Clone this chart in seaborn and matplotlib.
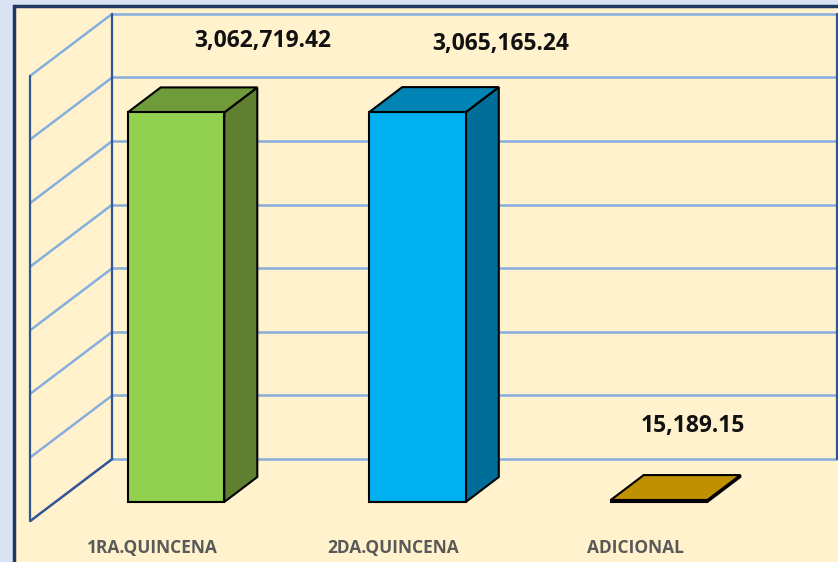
import numpy as np
import seaborn as sns
import matplotlib.pyplot as plt
from matplotlib.patches import Polygon, Rectangle

# Data
categories = ["1RA.QUINCENA", "2DA.QUINCENA", "ADICIONAL"]
values = [3062719.42, 3065165.24, 15189.15]
grid_values = [0, 500000, 1000000, 1500000, 2000000, 2500000, 3000000, 3500000]

# Colours: front, top, side
front_colors = ["#92D050", "#00B0F0", "#BF9000"]
top_colors = ["#6F9B3A", "#0083B5", "#BF9000"]
side_colors = ["#5E8030", "#006E98", "#A07800"]

sns.set_theme(style="white")
plt.rcParams['font.family'] = ['Open Sans', 'DejaVu Sans']

fig = plt.figure(figsize=(8.38, 5.62), dpi=100)
fig.patch.set_facecolor("#DAE3F3")
fig.patches.append(Rectangle((14 / 838, -0.05), 1.0, 1.05 - 6 / 562, transform=fig.transFigure,
                             facecolor="#FFF2CC", edgecolor="#1F3864", linewidth=2.5, zorder=-1))

ax = fig.add_axes([0, 0, 1, 1])
ax.patch.set_alpha(0)
sns.barplot(x=categories, y=values, hue=categories, palette=front_colors, width=0.4,
            saturation=1, edgecolor="black", linewidth=1.5, legend=False, ax=ax, zorder=3)

# pixel scaling of the oblique view
px_cat = 241.5
px_per_val = 63.6 / 500000
x0_px, y0_px = 176, 60
ax.set_xlim(-x0_px / px_cat, (838 - x0_px) / px_cat)
ax.set_ylim(-y0_px / px_per_val, (562 - y0_px) / px_per_val)
ax.axis("off")

bar_depth = (33, 25)
wall_depth = (57, 43)
front_depth = (-25, -19)


def shift(x, y, d):
    p = ax.transData.transform((x, y)) + np.array(d)
    return ax.transData.inverted().transform(p)


light = "#86AEDF"
dark = "#2F5597"
top = grid_values[-1]

# back wall and side wall
for g in grid_values:
    a = shift(-0.5, g, wall_depth)
    b = shift(2.5, g, wall_depth)
    c = shift(-0.5, g, front_depth)
    ax.plot([a[0], b[0]], [a[1], b[1]], color=light, lw=1.8, zorder=1)
    ax.plot([c[0], a[0]], [c[1], a[1]], color=dark if g == 0 else light, lw=1.8, zorder=1)
for xe in (-0.5, 2.5):
    a = shift(xe, 0, wall_depth)
    b = shift(xe, top, wall_depth)
    ax.plot([a[0], b[0]], [a[1], b[1]], color=dark, lw=1.6, zorder=1)
a = shift(-0.5, 0, front_depth)
b = shift(-0.5, top, front_depth)
ax.plot([a[0], b[0]], [a[1], b[1]], color=dark, lw=1.6, zorder=1)

# 3D faces
for i, v in enumerate(values):
    l, r = i - 0.2, i + 0.2
    top_face = [(l, v), (r, v), shift(r, v, bar_depth), shift(l, v, bar_depth)]
    side_face = [(r, 0), (r, v), shift(r, v, bar_depth), shift(r, 0, bar_depth)]
    ax.add_patch(Polygon(side_face, closed=True, facecolor=side_colors[i], edgecolor="black",
                         linewidth=1.5, zorder=2))
    ax.add_patch(Polygon(top_face, closed=True, facecolor=top_colors[i], edgecolor="black",
                         linewidth=1.5, zorder=2.5))

# value labels
label_offsets = [(87, 71), (83, 68), (34, 74)]
for i, v in enumerate(values):
    p = shift(i, v, label_offsets[i])
    ax.text(p[0], p[1], f"{v:,.2f}", ha="center", va="center", fontsize=16.5,
            fontweight="bold", color="#111111", zorder=5)

# category labels
for i, c in enumerate(categories):
    p = shift(i, 0, (-24, -46))
    ax.text(p[0], p[1], c, ha="center", va="center", fontsize=12.5,
            fontweight="bold", color="#595959", zorder=5)

fig.savefig("out.png", dpi=100)
